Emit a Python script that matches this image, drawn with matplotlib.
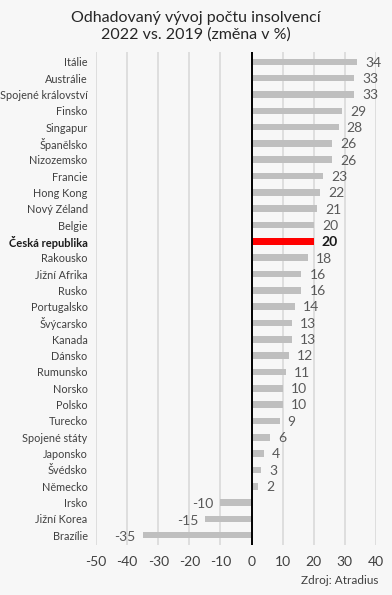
import matplotlib
matplotlib.use("Agg")
import matplotlib.pyplot as plt

countries = ["Itálie", "Austrálie", "Spojené království", "Finsko", "Singapur", "Španělsko",
             "Nizozemsko", "Francie", "Hong Kong", "Nový Zéland", "Belgie", "Česká republika",
             "Rakousko", "Jižní Afrika", "Rusko", "Portugalsko", "Švýcarsko", "Kanada", "Dánsko",
             "Rumunsko", "Norsko", "Polsko", "Turecko", "Spojené státy", "Japonsko", "Švédsko",
             "Německo", "Irsko", "Jižní Korea", "Brazílie"]
values = [34, 33, 33, 29, 28, 26, 26, 23, 22, 21, 20, 20, 18, 16, 16, 14, 13, 13, 12, 11,
          10, 10, 9, 6, 4, 3, 2, -10, -15, -35]
highlight = "Česká republika"
xticks = [-50, -40, -30, -20, -10, 0, 10, 20, 30, 40]

plt.rcParams['font.family'] = ['Lato', 'DejaVu Sans']
bg = "#f7f7f7"
fig = plt.figure(figsize=(3.92, 5.95), dpi=100, facecolor=bg)
ax = fig.add_axes([0.245, 0.084, 0.714, 0.8286])
ax.set_facecolor(bg)

n = len(countries)
ypos = list(range(n))
colors = ["#ff0000" if c == highlight else "#bfbfbf" for c in countries]
ax.barh(ypos, values, height=0.4, color=colors, zorder=2)
ax.set_ylim(n - 0.4, -0.6)
ax.set_xlim(-50, 40)
ax.set_xticks(xticks)
ax.set_xticklabels([str(t) for t in xticks], fontsize=10, color="#404040")
ax.set_yticks(ypos)
ax.set_yticklabels(countries, fontsize=7.8, color="#404040")
for lbl, c in zip(ax.get_yticklabels(), countries):
    if c == highlight:
        lbl.set_fontweight("bold")
        lbl.set_color("#1a1a1a")
        lbl.set_fontsize(8)
ax.tick_params(axis='both', length=0)
ax.tick_params(axis='y', pad=6)
ax.tick_params(axis='x', pad=8)
ax.grid(axis='x', color="#d9d9d9", linewidth=1.2, zorder=0)
ax.axvline(0, color="black", linewidth=1.4, zorder=3)
for s in ax.spines.values():
    s.set_visible(False)

for y, v, c in zip(ypos, values, countries):
    bold = c == highlight
    if v >= 0:
        ax.text(v + 2.6, y + 0.05, str(v), va='center', ha='left', fontsize=10,
                color="#1a1a1a" if bold else "#595959",
                fontweight='bold' if bold else 'normal')
    else:
        ax.text(v - 2.2, y + 0.1, str(v), va='center', ha='right', fontsize=10, color="#595959")

fig.text(0.5, 0.982, "Odhadovaný vývoj počtu insolvencí\n2022 vs. 2019 (změna v %)",
         ha='center', va='top', fontsize=11.5, color="#262626", linespacing=1.25)
fig.text(0.965, 0.025, "Zdroj: Atradius", ha='right', va='center', fontsize=8.5, color="#404040")

fig.savefig("out.png", dpi=100, facecolor=bg)
